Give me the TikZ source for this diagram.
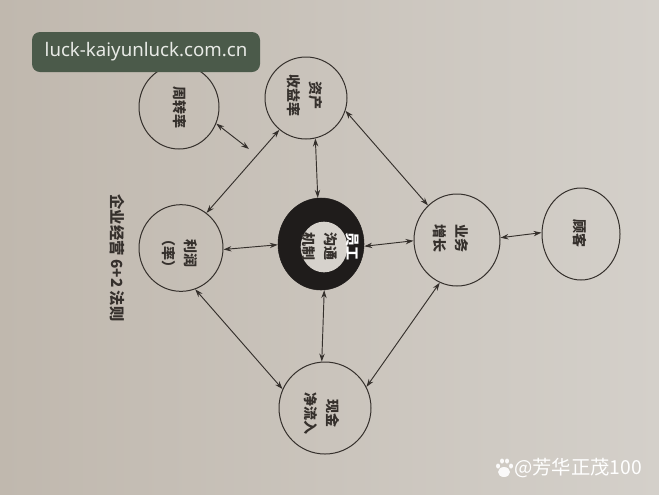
\documentclass[tikz,border=0pt]{standalone}
\usepackage{fontspec}
\setmainfont{Noto Sans}
\newfontfamily\cjk{Noto Sans CJK SC}
\usetikzlibrary{shapes.geometric,arrows.meta}
\definecolor{bgL}{HTML}{C0B8AE}
\definecolor{bgM}{HTML}{D3CEC7}
\definecolor{bgR}{HTML}{D4D0CA}
\definecolor{ink}{HTML}{35302C}
\definecolor{darkring}{HTML}{1F1C1B}
\definecolor{innerw}{HTML}{D6D2CC}
\definecolor{wmbox}{HTML}{4B5A4A}
\definecolor{wmtext}{HTML}{E8EAE6}
\tikzset{
  ring/.style={ellipse, draw=ink, line width=0.75pt, inner sep=0pt},
  lbl/.style={rotate=-90, align=center, font=\cjk\bfseries\fontsize{10.5}{16.5}\selectfont, text=ink, inner sep=0pt},
  link/.style={{Stealth[length=6pt,width=4pt]}-{Stealth[length=6pt,width=4pt]}, draw=ink, line width=0.7pt},
}
\begin{document}
\begin{tikzpicture}[x=0.75pt,y=-0.75pt]
\useasboundingbox (0,0) rectangle (659,494);
\shade[left color=bgL, middle color=bgM, right color=bgR] (0,0) rectangle (659,494);

% circles
\node[ring, minimum width=60pt, minimum height=63pt] (zhou) at (179,107) {};
\node[lbl] (zhoutxt) at (180,107) {周转率};
\node[ring, minimum width=61.5pt, minimum height=61.5pt] (zichan) at (306,98) {};
\node[lbl] (zichantxt) at (305,95) {资产\\收益率};
\node[ring, minimum width=63pt, minimum height=65pt] (lirun) at (181,248) {};
\node[lbl] (liruntxt) at (180,253) {利润\\（率）};
\node[ellipse, fill=darkring, draw=darkring, minimum width=64.5pt, minimum height=69pt] (yg) at (321,244) {};
\node[ellipse, fill=innerw, minimum width=35pt, minimum height=38pt] (yginner) at (324,247) {};
\node[lbl] (ygtxt) at (331,246) {\textcolor{white}{员工}\\沟通\\机制};
\node[ring, minimum width=64.5pt, minimum height=69pt] (yewu) at (457,240) {};
\node[lbl] (yewutxt) at (451,238) {业务\\增长};
\node[ring, minimum width=58.5pt, minimum height=69pt] (guke) at (581,234) {};
\node[lbl] (guketxt) at (580,233) {顾客};
\node[ring, minimum width=69pt, minimum height=69pt] (xj) at (325,408) {};
\node[lbl] (xjtxt) at (322,413) {现金\\净流入};

% title
\node[lbl, font=\cjk\bfseries\fontsize{11.5}{13}\selectfont] (title) at (117,258) {企业经营 6+2 法则};

% connectors
\coordinate (tip) at (249,149);
\draw[link] (zhou.-24) -- (tip);
\draw[link] (zichan.230) -- (lirun.54);
\draw[link] (zichan.-18) -- (yewu.130);
\draw[link] (zichan.-77) -- (yg.94);
\draw[link] (lirun.-2) -- (yg.181);
\draw[link] (yg.-3) -- (yewu.181);
\draw[link] (yewu.3) -- (guke.178);
\draw[link] (lirun.-71) -- (xj.156);
\draw[link] (yg.-86) -- (xj.94);
\draw[link] (yewu.248) -- (xj.27);

% watermarks
\node[fill=wmbox, rounded corners=6pt, minimum width=171pt, minimum height=30pt, text=wmtext, font=\fontsize{14}{16}\selectfont] (wm) at (146,52) {luck-kaiyunluck.com.cn};
\node[text=white, font=\cjk\fontsize{14.5}{16}\selectfont, anchor=west, inner sep=0pt] (wm2) at (514,468) {@芳华正茂100};
\fill[white, opacity=0.9] (504,472) ellipse [x radius=6, y radius=5];
\fill[white, opacity=0.9] (498,466) ellipse [x radius=2, y radius=2.5];
\fill[white, opacity=0.9] (502,461) ellipse [x radius=2, y radius=2.5];
\fill[white, opacity=0.9] (507,461) ellipse [x radius=2, y radius=2.5];
\fill[white, opacity=0.9] (511,466) ellipse [x radius=2, y radius=2.5];
\end{tikzpicture}
\end{document}
